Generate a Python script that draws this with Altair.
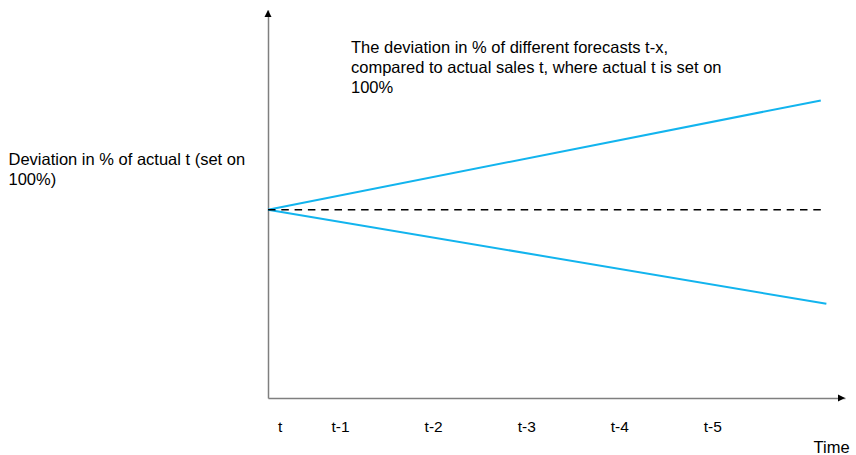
import altair as alt
import pandas as pd

# ---- data ----
series_names = ["Forecast above actual", "Forecast below actual", "Actual t (100%)"]
upper_periods = [0, 5.94]
upper_values = [100, 158]
lower_periods = [0, 6.0]
lower_values = [100, 50]
actual_periods = [0, 5.94]
actual_values = [100, 100]

tick_labels = ["t", "t-1", "t-2", "t-3", "t-4", "t-5"]
tick_periods = [0.13, 0.78, 1.78, 2.78, 3.78, 4.78]

x_max = 6.2
y_max = 206

note_lines = [
    "The deviation in % of different forecasts t-x,",
    "compared to actual sales t, where actual t is set on",
    "100%",
]
y_title_lines = ["Deviation in % of actual t (set on", "100%)"]
x_title = "Time"

FONT = "Liberation Sans"
TXT = 16.5

# ---- tables ----
lines_df = pd.DataFrame({
    "series": [series_names[0]] * 2 + [series_names[1]] * 2,
    "period": upper_periods + lower_periods,
    "value": upper_values + lower_values,
})
actual_df = pd.DataFrame({"period": actual_periods, "value": actual_values})
ticks_df = pd.DataFrame({"label": tick_labels, "period": tick_periods})
note_df = pd.DataFrame({"text": ["\n".join(note_lines)]})
yarrow_df = pd.DataFrame({"period": [0], "value": [y_max]})
xarrow_df = pd.DataFrame({"period": [x_max], "value": [0]})

W, H = 577, 388

x_axis = alt.Axis(
    title=x_title, labels=False, ticks=False, grid=False,
    domainColor="#7f7f7f", domainWidth=1.5,
    titleFont=FONT, titleFontSize=TXT, titleFontWeight="normal", titleColor="#000000",
    titleAlign="left", titleBaseline="alphabetic", titleX=545, titleY=54,
)
y_axis = alt.Axis(
    title=y_title_lines, labels=False, ticks=False, grid=False,
    domainColor="#7f7f7f", domainWidth=1.5,
    titleFont=FONT, titleFontSize=TXT, titleFontWeight="normal", titleColor="#000000",
    titleAngle=0, titleAlign="left", titleBaseline="alphabetic",
    titleX=-260, titleY=154, titleLineHeight=20,
)
x_enc = alt.X("period:Q", scale=alt.Scale(domain=[0, x_max], nice=False, zero=False), axis=x_axis)
y_enc = alt.Y("value:Q", scale=alt.Scale(domain=[0, y_max], nice=False, zero=False), axis=y_axis)

forecasts = alt.Chart(lines_df).mark_line(color="#12B4EE", strokeWidth=2).encode(
    x=x_enc, y=y_enc, detail="series:N"
)
actual = alt.Chart(actual_df).mark_line(color="#000000", strokeWidth=1.5, strokeDash=[7.5, 5.8]).encode(
    x=x_enc, y=y_enc
)
y_arrow = alt.Chart(yarrow_df).mark_point(
    shape="M0,0L-0.7,1.4L0.7,1.4Z", filled=True, color="#000000", size=100, opacity=1, strokeWidth=0
).encode(x=x_enc, y=y_enc)
x_arrow = alt.Chart(xarrow_df).mark_point(
    shape="M0,0L-1.4,-0.7L-1.4,0.7Z", filled=True, color="#000000", size=100, opacity=1, strokeWidth=0
).encode(x=x_enc, y=y_enc)

ticks = alt.Chart(ticks_df).mark_text(
    font=FONT, fontSize=15.5, color="#000000", align="center", baseline="middle"
).encode(x=x_enc, y=alt.value(417), text="label:N")

note = alt.Chart(note_df).mark_text(
    font=FONT, fontSize=TXT, color="#000000", align="left", baseline="alphabetic",
    lineBreak="\n", lineHeight=20
).encode(x=alt.value(83), y=alt.value(43), text="text:N")

chart = alt.layer(forecasts, actual, y_arrow, x_arrow, ticks, note).properties(
    width=W, height=H,
    padding={"left": 268, "top": 10, "right": 856 - 268 - W, "bottom": 455 - 10 - H},
    autosize=alt.AutoSizeParams(type="none"),
    background="white",
).configure_view(stroke=None)

chart.save("out.html", embed_options={"renderer": "svg", "actions": False})
